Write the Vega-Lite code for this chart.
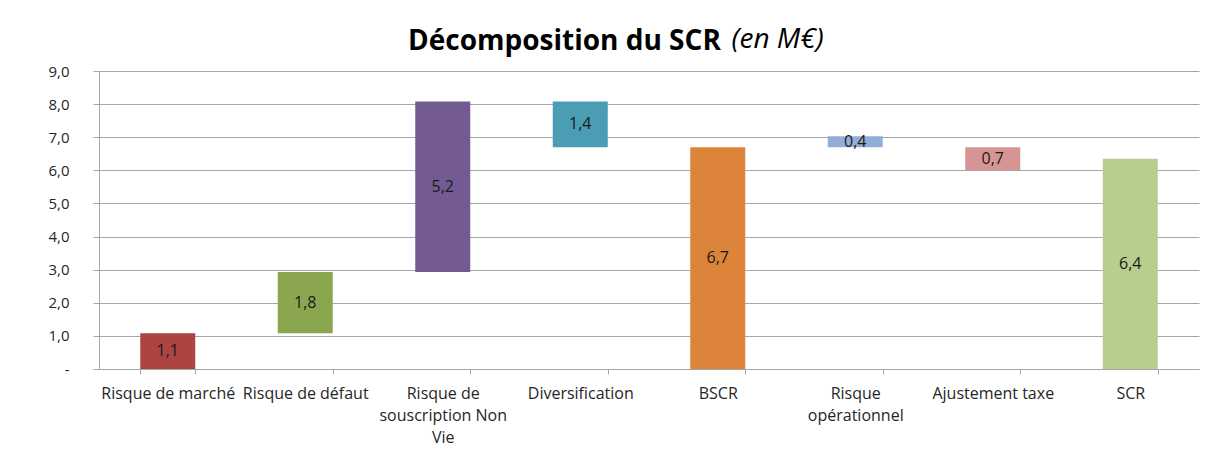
{
  "$schema": "https://vega.github.io/schema/vega-lite/v6.json",
  "width": 1100,
  "height": 298,
  "autosize": {"type": "none"},
  "padding": {"left": 99, "top": 71, "right": 10, "bottom": 93},
  "background": "white",
  "title": {
    "text": "Décomposition du SCR",
    "anchor": "start",
    "frame": "group",
    "align": "left",
    "dx": 309,
    "offset": -31,
    "font": "Open Sans",
    "fontSize": 28,
    "fontWeight": "bold",
    "color": "#000000"
  },
  "data": {
    "values": [
      {"cat": "Risque de marché", "start": 0, "end": 1.08, "lbl": "1,1"},
      {"cat": "Risque de défaut", "start": 1.08, "end": 2.93, "lbl": "1,8"},
      {"cat": "Risque de souscription Non Vie", "start": 2.93, "end": 8.08, "lbl": "5,2"},
      {"cat": "Diversification", "start": 8.08, "end": 6.7, "lbl": "1,4"},
      {"cat": "BSCR", "start": 0, "end": 6.7, "lbl": "6,7"},
      {"cat": "Risque opérationnel", "start": 6.7, "end": 7.03, "lbl": "0,4"},
      {"cat": "Ajustement taxe", "start": 6.7, "end": 6.01, "lbl": "0,7"},
      {"cat": "SCR", "start": 0, "end": 6.35, "lbl": "6,4"}
    ]
  },
  "encoding": {
    "x": {
      "field": "cat",
      "type": "nominal",
      "sort": null,
      "scale": {"paddingInner": 0.6, "paddingOuter": 0.3},
      "axis": {
        "title": null,
        "labelAngle": 0,
        "labelFont": "Open Sans",
        "labelFontSize": 16,
        "labelColor": "#262626",
        "labelPadding": 11,
        "labelLineHeight": 22,
        "labelLimit": 200,
        "labelOverlap": false,
        "tickBand": "extent",
        "tickSize": 5,
        "tickColor": "#A6A6A6",
        "domainColor": "#A6A6A6",
        "labelExpr": "datum.value == 'Risque de souscription Non Vie' ? ['Risque de', 'souscription Non', 'Vie'] : datum.value == 'Risque opérationnel' ? ['Risque', 'opérationnel'] : datum.value"
      }
    }
  },
  "layer": [
    {
      "mark": {"type": "bar"},
      "encoding": {
        "y": {
          "field": "start",
          "type": "quantitative",
          "scale": {"domain": [0, 9], "nice": false},
          "axis": {
            "title": "(en M€)",
            "titleAngle": 0,
            "titleX": 632,
            "titleY": -24,
            "titleAlign": "left",
            "titleBaseline": "alphabetic",
            "titleFont": "Open Sans",
            "titleFontSize": 28,
            "titleFontStyle": "italic",
            "titleFontWeight": "normal",
            "titleColor": "#000000",
            "values": [0, 1, 2, 3, 4, 5, 6, 7, 8, 9],
            "labelOverlap": false,
            "labelExpr": "datum.value == 0 ? '-' : replace(format(datum.value, '.1f'), '.', ',')",
            "labelFont": "Open Sans",
            "labelFontSize": 15,
            "labelColor": "#262626",
            "labelPadding": 24,
            "tickSize": 6,
            "tickColor": "#A6A6A6",
            "domainColor": "#A6A6A6",
            "gridColor": "#A6A6A6",
            "grid": true
          }
        },
        "y2": {"field": "end"},
        "color": {
          "field": "cat",
          "type": "nominal",
          "sort": null,
          "legend": null,
          "scale": {
            "domain": ["Risque de marché", "Risque de défaut", "Risque de souscription Non Vie", "Diversification", "BSCR", "Risque opérationnel", "Ajustement taxe", "SCR"],
            "range": ["#AE4441", "#8AA74F", "#735A93", "#4A9DB3", "#DD843B", "#93AED6", "#D69594", "#B7CE8F"]
          }
        }
      }
    },
    {
      "transform": [{"calculate": "(datum.start + datum.end) / 2", "as": "mid"}],
      "mark": {"type": "text", "font": "Open Sans", "fontSize": 16, "color": "#1a1a1a", "baseline": "middle"},
      "encoding": {
        "y": {
          "field": "mid",
          "type": "quantitative",
          "axis": {
            "title": "(en M€)",
            "titleAngle": 0,
            "titleX": 632,
            "titleY": -24,
            "titleAlign": "left",
            "titleBaseline": "alphabetic",
            "titleFont": "Open Sans",
            "titleFontSize": 28,
            "titleFontStyle": "italic",
            "titleFontWeight": "normal",
            "titleColor": "#000000",
            "values": [0, 1, 2, 3, 4, 5, 6, 7, 8, 9],
            "labelOverlap": false,
            "labelExpr": "datum.value == 0 ? '-' : replace(format(datum.value, '.1f'), '.', ',')",
            "labelFont": "Open Sans",
            "labelFontSize": 15,
            "labelColor": "#262626",
            "labelPadding": 24,
            "tickSize": 6,
            "tickColor": "#A6A6A6",
            "domainColor": "#A6A6A6",
            "gridColor": "#A6A6A6",
            "grid": true
          }
        },
        "text": {"field": "lbl"}
      }
    }
  ],
  "config": {"view": {"stroke": null}, "axis": {"gridWidth": 1}}
}
